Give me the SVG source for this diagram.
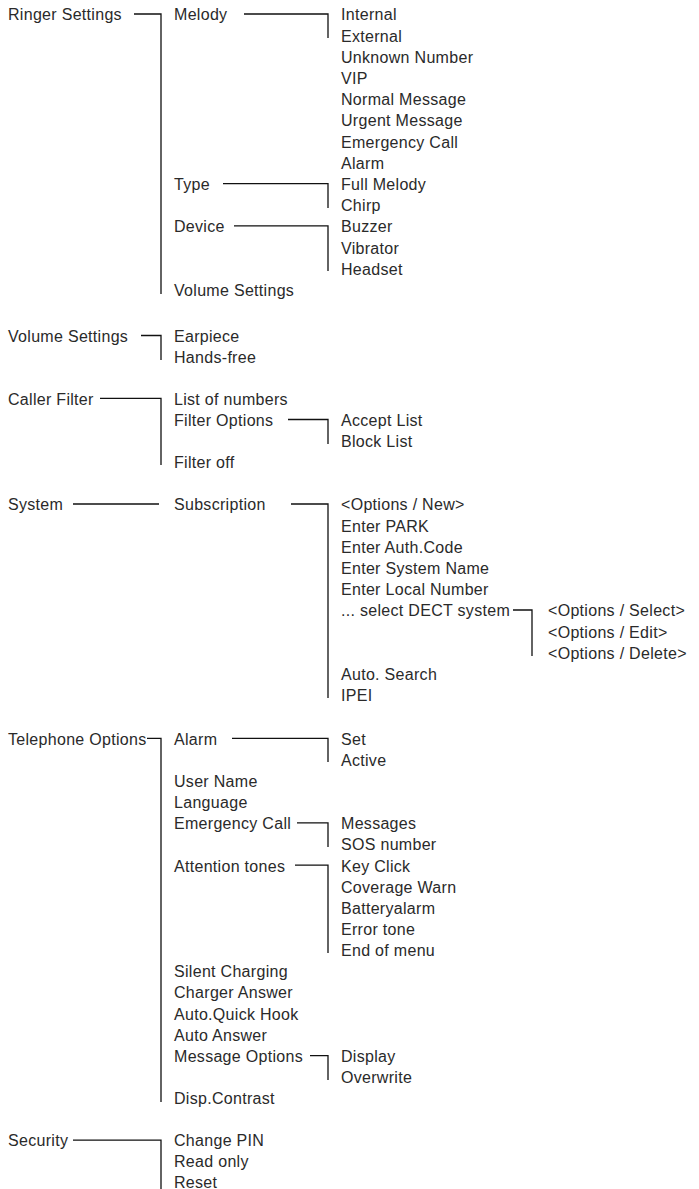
<svg xmlns="http://www.w3.org/2000/svg" width="699" height="1189" viewBox="0 0 699 1189">
<style>
text{font-family:"Liberation Sans",Arial,sans-serif;font-size:16px;letter-spacing:0.3px;fill:#2a2a2a}
.c{fill:none;stroke:#111;stroke-width:1.3}
</style>
<rect width="699" height="1189" fill="#fff"/>
<g id="connectors" class="c">
<path d="M134 14H161V294"/>
<path d="M244 14H328V38"/>
<path d="M223 183.6H328V208"/>
<path d="M234 225.9H328V271"/>
<path d="M141 335.5H161V360"/>
<path d="M100 398.3H161V465"/>
<path d="M288 419.5H328V444"/>
<path d="M73 504H159"/>
<path d="M291 504H328V698"/>
<path d="M513 610H532V656"/>
<path d="M147 738.3H161V1102"/>
<path d="M232 738.3H328V762"/>
<path d="M297 822.9H328V847"/>
<path d="M295 865.2H328V953"/>
<path d="M310 1055.55H328V1080"/>
<path d="M73 1140.15H161V1189"/>
</g>
<g id="n-ringer"><text x="8" y="20.3">Ringer Settings</text></g>
<g id="n-melody"><text x="174" y="20.3">Melody</text></g>
<g id="n-internal"><text x="341" y="20.3">Internal</text></g>
<g id="n-external"><text x="341" y="41.5">External</text></g>
<g id="n-unknown"><text x="341" y="62.7">Unknown Number</text></g>
<g id="n-vip"><text x="341" y="83.9">VIP</text></g>
<g id="n-normal"><text x="341" y="105.1">Normal Message</text></g>
<g id="n-urgent"><text x="341" y="126.3">Urgent Message</text></g>
<g id="n-emerg1"><text x="341" y="147.5">Emergency Call</text></g>
<g id="n-alarm1"><text x="341" y="168.7">Alarm</text></g>
<g id="n-type"><text x="174" y="189.9">Type</text></g>
<g id="n-fullmelody"><text x="341" y="189.9">Full Melody</text></g>
<g id="n-chirp"><text x="341" y="211.1">Chirp</text></g>
<g id="n-device"><text x="174" y="232.3">Device</text></g>
<g id="n-buzzer"><text x="341" y="232.3">Buzzer</text></g>
<g id="n-vibrator"><text x="341" y="253.5">Vibrator</text></g>
<g id="n-headset"><text x="341" y="274.7">Headset</text></g>
<g id="n-volset1"><text x="174" y="295.9">Volume Settings</text></g>
<g id="n-volset"><text x="8" y="341.8">Volume Settings</text></g>
<g id="n-earpiece"><text x="174" y="341.8">Earpiece</text></g>
<g id="n-handsfree"><text x="174" y="363">Hands-free</text></g>
<g id="n-caller"><text x="8" y="404.6">Caller Filter</text></g>
<g id="n-list"><text x="174" y="404.6">List of numbers</text></g>
<g id="n-filteropt"><text x="174" y="425.8">Filter Options</text></g>
<g id="n-accept"><text x="341" y="425.8">Accept List</text></g>
<g id="n-block"><text x="341" y="447">Block List</text></g>
<g id="n-filteroff"><text x="174" y="468.2">Filter off</text></g>
<g id="n-system"><text x="8" y="510.3">System</text></g>
<g id="n-subscription"><text x="174" y="510.3">Subscription</text></g>
<g id="n-optnew"><text x="341" y="510.3">&lt;Options / New&gt;</text></g>
<g id="n-park"><text x="341" y="531.5">Enter PARK</text></g>
<g id="n-auth"><text x="341" y="552.7">Enter Auth.Code</text></g>
<g id="n-sysname"><text x="341" y="573.9">Enter System Name</text></g>
<g id="n-local"><text x="341" y="595.1">Enter Local Number</text></g>
<g id="n-dect"><text x="341" y="616.3">... select DECT system</text></g>
<g id="n-optselect"><text x="548" y="616.3">&lt;Options / Select&gt;</text></g>
<g id="n-optedit"><text x="548" y="637.5">&lt;Options / Edit&gt;</text></g>
<g id="n-optdelete"><text x="548" y="658.7">&lt;Options / Delete&gt;</text></g>
<g id="n-autosearch"><text x="341" y="679.9">Auto. Search</text></g>
<g id="n-ipei"><text x="341" y="701.1">IPEI</text></g>
<g id="n-telopt"><text x="8" y="744.6">Telephone Options</text></g>
<g id="n-alarm2"><text x="174" y="744.6">Alarm</text></g>
<g id="n-set"><text x="341" y="744.6">Set</text></g>
<g id="n-active"><text x="341" y="765.75">Active</text></g>
<g id="n-username"><text x="174" y="786.9">User Name</text></g>
<g id="n-language"><text x="174" y="808.05">Language</text></g>
<g id="n-emerg2"><text x="174" y="829.2">Emergency Call</text></g>
<g id="n-messages"><text x="341" y="829.2">Messages</text></g>
<g id="n-sos"><text x="341" y="850.35">SOS number</text></g>
<g id="n-attention"><text x="174" y="871.5">Attention tones</text></g>
<g id="n-keyclick"><text x="341" y="871.5">Key Click</text></g>
<g id="n-coverage"><text x="341" y="892.65">Coverage Warn</text></g>
<g id="n-battery"><text x="341" y="913.8">Batteryalarm</text></g>
<g id="n-error"><text x="341" y="934.95">Error tone</text></g>
<g id="n-endmenu"><text x="341" y="956.1">End of menu</text></g>
<g id="n-silent"><text x="174" y="977.25">Silent Charging</text></g>
<g id="n-charger"><text x="174" y="998.4">Charger Answer</text></g>
<g id="n-quickhook"><text x="174" y="1019.55">Auto.Quick Hook</text></g>
<g id="n-autoanswer"><text x="174" y="1040.7">Auto Answer</text></g>
<g id="n-msgopt"><text x="174" y="1061.85">Message Options</text></g>
<g id="n-display"><text x="341" y="1061.85">Display</text></g>
<g id="n-overwrite"><text x="341" y="1083">Overwrite</text></g>
<g id="n-contrast"><text x="174" y="1104.15">Disp.Contrast</text></g>
<g id="n-security"><text x="8" y="1146.45">Security</text></g>
<g id="n-changepin"><text x="174" y="1146.45">Change PIN</text></g>
<g id="n-readonly"><text x="174" y="1167.1">Read only</text></g>
<g id="n-reset"><text x="174" y="1187.6">Reset</text></g>
</svg>
